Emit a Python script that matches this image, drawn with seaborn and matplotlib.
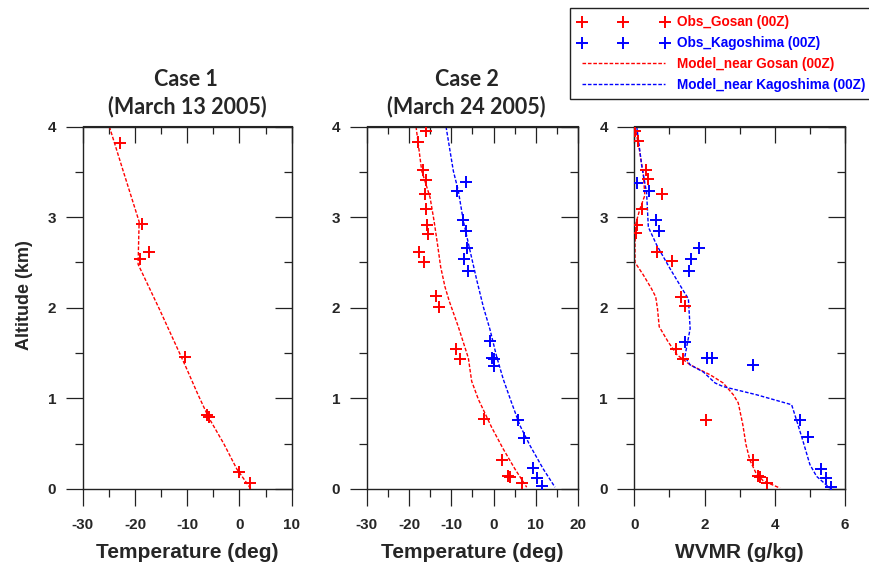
import numpy as np
import matplotlib
matplotlib.use("Agg")
import matplotlib.pyplot as plt
from matplotlib.lines import Line2D
from matplotlib.ticker import MultipleLocator
import seaborn as sns

RED = '#ff0000'
BLUE = '#0000ff'

# Case 1 (March 13 2005) - Gosan only
c1_obs_t = [-22.85, -18.7, -17.3, -18.96, -10.35, -6.3, -5.8, -0.1, 2.0]
c1_obs_z = [3.82, 2.92, 2.61, 2.54, 1.46, 0.82, 0.79, 0.19, 0.07]
c1_mod_t = [-24.9, -22.2, -19.2, -19.4, -15.2, -10.2, -8.0, -5.9, -3.0, -0.5, 2.2]
c1_mod_z = [4.0, 3.5, 2.95, 2.48, 1.97, 1.34, 1.05, 0.79, 0.5, 0.22, 0.0]

# Case 2 (March 24 2005)
c2_gos_t = [-16.06, -17.95, -16.6, -15.98, -16.2, -15.9, -15.75, -15.6, -17.56, -16.4,
            -13.6, -12.9, -8.98, -7.95, -2.2, 1.89, 3.46, 3.86, 6.77]
c2_gos_z = [3.945, 3.83, 3.52, 3.41, 3.26, 3.085, 2.91, 2.81, 2.61, 2.51,
            2.13, 2.01, 1.55, 1.44, 0.776, 0.32, 0.146, 0.128, 0.066]
c2_kag_t = [-6.54, -8.74, -7.17, -6.54, -6.38, -6.93, -6.14, -0.87, -0.4, 0.1,
            0.0, 5.67, 7.17, 9.37, 10.16, 11.42]
c2_kag_z = [3.385, 3.29, 2.97, 2.85, 2.66, 2.54, 2.41, 1.63, 1.45, 1.44,
            1.36, 0.76, 0.567, 0.227, 0.117, 0.03]
c2_mod_gos_t = [-18.35, -17.0, -15.04, -14.09, -13.3, -12.52, -11.5, -10.47, -8.35,
                -5.98, -5.2, -3.62, -0.47, 2.28, 5.04, 7.8]
c2_mod_gos_z = [4.0, 3.51, 3.22, 2.96, 2.71, 2.45, 2.23, 2.07, 1.79,
                1.445, 1.19, 0.99, 0.68, 0.44, 0.22, 0.02]
c2_mod_kag_t = [-11.26, -9.53, -8.35, -7.17, -5.59, -4.02, -2.44, -0.87, 0.71,
                2.28, 4.25, 6.22, 8.58, 11.73, 14.49]
c2_mod_kag_z = [4.0, 3.51, 3.29, 2.96, 2.63, 2.31, 2.01, 1.76, 1.46,
                1.21, 0.95, 0.70, 0.48, 0.22, 0.02]

# WVMR (g/kg), Case 2
wv_gos_q = [0.02, 0.11, 0.33, 0.40, 0.78, 0.23, 0.07, 0.05, 0.655, 1.08,
            1.33, 1.43, 1.19, 1.40, 2.03, 3.37, 3.51, 3.58, 3.77]
wv_gos_z = [3.95, 3.835, 3.52, 3.42, 3.26, 3.09, 2.915, 2.83, 2.61, 2.515,
            2.12, 2.02, 1.55, 1.43, 0.76, 0.32, 0.14, 0.128, 0.066]
wv_kag_q = [0.07, 0.43, 0.61, 0.71, 1.84, 1.61, 1.56, 1.44, 2.06, 2.22,
            3.37, 4.72, 4.96, 5.31, 5.45, 5.59]
wv_kag_z = [3.38, 3.29, 2.97, 2.85, 2.66, 2.54, 2.405, 1.62, 1.45, 1.45,
            1.37, 0.76, 0.57, 0.22, 0.12, 0.02]
wv_mod_gos_q = [0.02, 0.16, 0.26, 0.30, 0.16, 0.05, 0.02, 0.02, 0.26, 0.49, 0.61, 0.66,
                0.71, 0.97, 1.22, 1.59, 2.16, 2.53, 2.82, 2.96, 3.09, 3.18, 3.29,
                3.46, 3.67, 4.15]
wv_mod_gos_z = [4.0, 3.71, 3.46, 3.24, 3.09, 2.94, 2.72, 2.50, 2.36, 2.21, 2.12, 1.99,
                1.79, 1.62, 1.48, 1.37, 1.26, 1.17, 1.04, 0.95, 0.71, 0.49, 0.32,
                0.18, 0.09, 0.01]
wv_mod_kag_q = [0.07, 0.21, 0.35, 0.40, 0.64, 1.02, 1.44, 1.54, 1.59, 1.44, 1.59,
                1.97, 2.30, 2.53, 3.48, 4.48, 4.62, 4.81, 5.00, 5.19, 5.57]
wv_mod_kag_z = [4.0, 3.57, 3.27, 2.89, 2.69, 2.43, 2.16, 2.10, 1.77, 1.46, 1.37,
                1.29, 1.17, 1.13, 1.04, 0.93, 0.76, 0.52, 0.27, 0.14, 0.01]

legend_labels = ['Obs_Gosan (00Z)', 'Obs_Kagoshima (00Z)',
                 'Model_near Gosan (00Z)', 'Model_near Kagoshima (00Z)']

sns.set_style('white')
plt.rcParams['font.family'] = ['Liberation Sans', 'DejaVu Sans']
plt.rcParams['font.weight'] = 'bold'
plt.rcParams['axes.unicode_minus'] = False

fig = plt.figure(figsize=(8.7, 5.68), dpi=100)

W, H = 870.0, 568.0
top_px, bot_px = 126.5, 489.0
lefts = [82.7, 366.7, 634.3]
widths = [209.0, 211.6, 210.7]
axes = [fig.add_axes([l / W, 1 - bot_px / H, w / W, (bot_px - top_px) / H])
        for l, w in zip(lefts, widths)]

DASH = (0, (2.6, 1.3))
MS = 70
MLW = 1.4


def model(ax, x, y, c):
    sns.lineplot(x=x, y=y, ax=ax, color=c, lw=1.0, linestyle=DASH,
                 estimator=None, sort=False)


def obs(ax, x, y, c):
    sns.scatterplot(x=x, y=y, ax=ax, color=c, marker='+', s=MS,
                    linewidth=MLW, zorder=3)


ax1, ax2, ax3 = axes
model(ax1, c1_mod_t, c1_mod_z, RED)
obs(ax1, c1_obs_t, c1_obs_z, RED)

model(ax2, c2_mod_gos_t, c2_mod_gos_z, RED)
model(ax2, c2_mod_kag_t, c2_mod_kag_z, BLUE)
obs(ax2, c2_gos_t, c2_gos_z, RED)
obs(ax2, c2_kag_t, c2_kag_z, BLUE)

model(ax3, wv_mod_gos_q, wv_mod_gos_z, RED)
model(ax3, wv_mod_kag_q, wv_mod_kag_z, BLUE)
obs(ax3, wv_gos_q, wv_gos_z, RED)
obs(ax3, wv_kag_q, wv_kag_z, BLUE)

xlims = [(-30, 10), (-30, 20), (0, 6)]
xmaj = [10, 10, 2]
xmin = [5, 5, 1]
xlabels = ['Temperature (deg)', 'Temperature (deg)', 'WVMR (g/kg)']

for ax, lim, mj, mn, lab in zip(axes, xlims, xmaj, xmin, xlabels):
    ax.set_xlim(*lim)
    ax.set_ylim(0, 4)
    ax.xaxis.set_major_locator(MultipleLocator(mj))
    ax.xaxis.set_minor_locator(MultipleLocator(mn))
    ax.yaxis.set_major_locator(MultipleLocator(1))
    ax.yaxis.set_minor_locator(MultipleLocator(0.5))
    for s in ax.spines.values():
        s.set_color('#222222')
        s.set_linewidth(1.0)
    ax.tick_params(which='both', direction='out', color='#222222', width=0.9,
                   labelsize=11, top=False, right=False, bottom=True, left=True)
    ax.tick_params(which='major', length=12)
    ax.tick_params(which='minor', length=6)
    ax.tick_params(axis='x', which='major', pad=9)
    ax.tick_params(axis='y', which='major', pad=7)
    for t in ax.get_xticklabels() + ax.get_yticklabels():
        t.set_fontweight('bold')

    sx = ax.secondary_xaxis('top')
    sx.xaxis.set_major_locator(MultipleLocator(mj))
    sx.xaxis.set_minor_locator(MultipleLocator(mn))
    sx.tick_params(which='both', direction='in', labeltop=False,
                   color='#222222', width=0.9)
    sx.tick_params(which='major', length=12)
    sx.tick_params(which='minor', length=6)
    sy = ax.secondary_yaxis('right')
    sy.yaxis.set_major_locator(MultipleLocator(1))
    sy.yaxis.set_minor_locator(MultipleLocator(0.5))
    sy.tick_params(which='both', direction='in', labelright=False,
                   color='#222222', width=0.9)
    sy.tick_params(which='major', length=12)
    sy.tick_params(which='minor', length=6)

    ax.set_xlabel(lab, fontsize=15, fontweight='bold', labelpad=8)
    ax.set_ylabel('')

ax1.set_ylabel('Altitude (km)', fontsize=13, fontweight='bold')
ax1.yaxis.set_label_coords(-0.238, 0.535)

title_font = dict(family=['Lato', 'DejaVu Sans'], fontweight='bold', fontsize=15.5,
                  ha='center', va='center')
fig.text(186 / W, 1 - 80 / H, 'Case 1', **title_font)
fig.text(187 / W, 1 - 106.7 / H, '(March 13 2005)', **title_font)
fig.text(466.7 / W, 1 - 80 / H, 'Case 2', **title_font)
fig.text(466.7 / W, 1 - 106.7 / H, '(March 24 2005)', **title_font)

handles = [
    Line2D([], [], color=RED, marker='+', linestyle='None', markersize=9, mew=MLW),
    Line2D([], [], color=BLUE, marker='+', linestyle='None', markersize=9, mew=MLW),
    Line2D([], [], color=RED, linestyle=DASH, lw=1.0),
    Line2D([], [], color=BLUE, linestyle=DASH, lw=1.0),
]
leg = fig.legend(handles, legend_labels, loc='upper left',
                 bbox_to_anchor=(570 / W, 1 - 8 / H), borderaxespad=0,
                 numpoints=3, handlelength=6.7, handletextpad=0.6,
                 labelspacing=0.5, borderpad=0.55, fancybox=False, framealpha=1,
                 edgecolor='#222222', labelcolor='linecolor',
                 prop=dict(family='Liberation Sans', weight='bold', size=9.8))
leg.get_frame().set_linewidth(1.0)

fig.savefig('out.png', dpi=100)
